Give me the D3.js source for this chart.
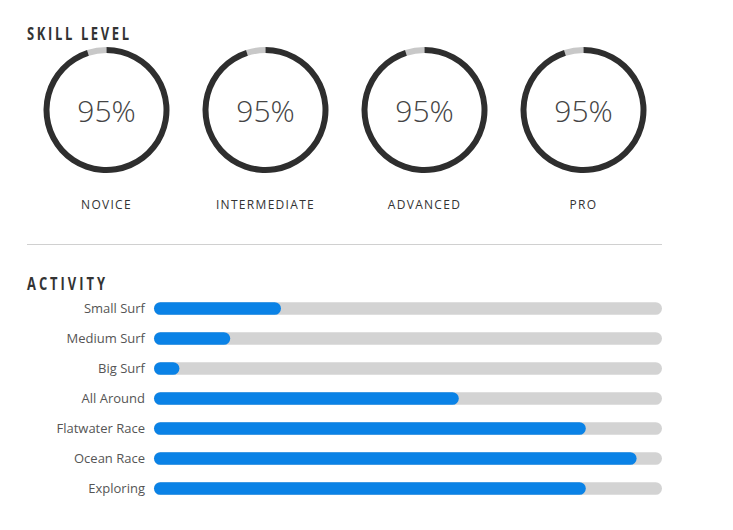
<!DOCTYPE html>
<html><head><meta charset="utf-8">
<script src="https://cdn.jsdelivr.net/npm/d3@7"></script>
<style>body{margin:0;background:#fff}</style>
</head><body>
<script>
const skillLevels = ["NOVICE", "INTERMEDIATE", "ADVANCED", "PRO"];
const skillValues = [95, 95, 95, 95];
const activities = ["Small Surf", "Medium Surf", "Big Surf", "All Around", "Flatwater Race", "Ocean Race", "Exploring"];
const activityValues = [25, 15, 5, 60, 85, 95, 85];

const W = 733, H = 530;
const svg = d3.select("body").append("svg").attr("width", W).attr("height", H);
const titleFont = "'Open Sans','Noto Sans',sans-serif";
const bodyFont = "'Open Sans','Noto Sans',sans-serif";
const sx = 0.7;

function title(txt, yb, w) {
  svg.append("text").attr("transform", `translate(27,${yb}) scale(${sx},1)`).text(txt)
    .attr("font-family", titleFont).attr("font-weight", "bold").attr("font-size", 18.5)
    .attr("textLength", w / sx).attr("lengthAdjust", "spacing").attr("fill", "#333");
}
title("SKILL LEVEL", 40, 102);
title("ACTIVITY", 289.5, 78);

// Divider
svg.append("line").attr("x1", 27).attr("x2", 662).attr("y1", 244.5).attr("y2", 244.5)
  .attr("stroke", "#d0d0d0").attr("stroke-width", 1);

// Gauges
const xg = d3.scalePoint().domain(skillLevels).range([106.5, 583.5]);
const angle = d3.scaleLinear().domain([0, 100]).range([0, 2 * Math.PI]);
const r = 60, sw = 6;
const arc = d3.arc().innerRadius(r - sw / 2).outerRadius(r + sw / 2);
const g = svg.selectAll("g.gauge").data(skillLevels).join("g")
  .attr("class", "gauge").attr("transform", d => `translate(${xg(d)},110)`);
g.append("path").attr("d", (d, i) => arc({startAngle: angle(skillValues[i]), endAngle: 2 * Math.PI}))
  .attr("fill", "#c8c8c8");
g.append("path").attr("d", (d, i) => arc({startAngle: 0, endAngle: angle(skillValues[i])}))
  .attr("fill", "#2e2e2e");
g.append("text").attr("text-anchor", "middle").attr("y", 12)
  .attr("font-family", bodyFont).attr("font-weight", 300).attr("font-size", 30)
  .attr("fill", "#444").text((d, i) => skillValues[i] + "%");
g.append("text").attr("text-anchor", "middle").attr("y", 99)
  .attr("font-family", bodyFont).attr("font-size", 12).attr("letter-spacing", 1.3)
  .attr("fill", "#333").text(d => d);

// Activity bars
const x = d3.scaleLinear().domain([0, 100]).range([154, 662]);
const y = d3.scaleBand().domain(activities).range([293.5, 503.5]).paddingInner(0.58).paddingOuter(0.29);
const bh = y.bandwidth();
const rows = svg.selectAll("g.row").data(activities).join("g").attr("class", "row");
rows.append("rect").attr("x", x(0)).attr("y", d => y(d)).attr("width", x(100) - x(0))
  .attr("height", bh).attr("rx", bh / 2).attr("fill", "#d3d3d3");
rows.append("rect").attr("x", x(0)).attr("y", d => y(d))
  .attr("width", (d, i) => x(activityValues[i]) - x(0))
  .attr("height", bh).attr("rx", bh / 2).attr("fill", "#0a82e6");
rows.append("text").attr("x", 145).attr("y", d => y(d) + bh / 2 + 4.5)
  .attr("text-anchor", "end").attr("font-family", bodyFont).attr("font-size", 13)
  .attr("fill", "#555").text(d => d);
</script>
</body></html>
